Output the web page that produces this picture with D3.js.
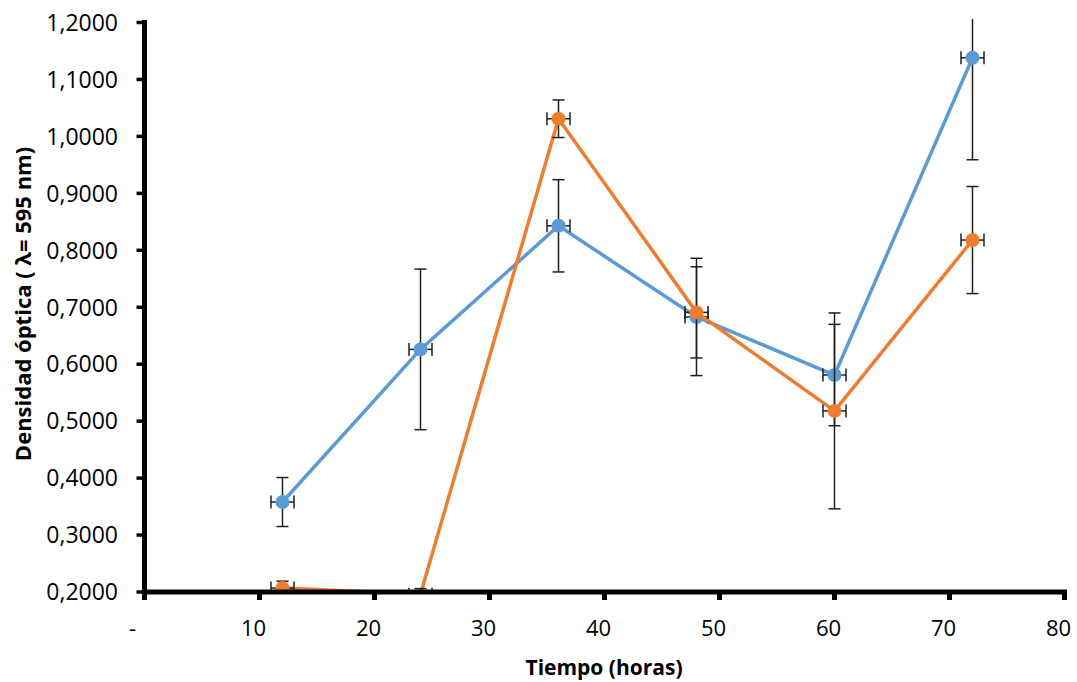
<!DOCTYPE html>
<html>
<head>
<meta charset="utf-8">
<script src="https://cdn.jsdelivr.net/npm/d3@7/dist/d3.min.js"></script>
<style>
  html, body { margin: 0; padding: 0; background: #fff; }
  svg { display: block; }
</style>
</head>
<body>
<svg id="chart" width="1077" height="682"></svg>
<script>
// ---- data ----
const times = [12, 24, 36, 48, 60, 72];
const blueValues = [0.358, 0.626, 0.843, 0.683, 0.581, 1.138];
const blueErr = [0.043, 0.141, 0.081, 0.103, 0.089, 0.179];
const orangeValues = [0.207, 0.196, 1.031, 0.691, 0.518, 0.818];
const orangeErr = [0.012, 0.010, 0.033, 0.080, 0.172, 0.094];
const timeErr = 1;
const xTicks = [0, 10, 20, 30, 40, 50, 60, 70, 80];
const xTickLabels = ["-", "10", "20", "30", "40", "50", "60", "70", "80"];
const yTicks = [0.2, 0.3, 0.4, 0.5, 0.6, 0.7, 0.8, 0.9, 1.0, 1.1, 1.2];
const yTickLabels = ["0,2000", "0,3000", "0,4000", "0,5000", "0,6000", "0,7000", "0,8000", "0,9000", "1,0000", "1,1000", "1,2000"];

const svg = d3.select("#chart");
const x = d3.scaleLinear().domain([0, 80]).range([144.5, 1064.5]);
const y = d3.scaleLinear().domain([0.2, 1.2]).range([592, 22.5]);

svg.append("defs").append("clipPath").attr("id", "plotclip")
  .append("rect").attr("x", 130).attr("y", 19).attr("width", 947).attr("height", 573);

const plot = svg.append("g").attr("clip-path", "url(#plotclip)");

const series = [
  { values: blueValues, err: blueErr, color: "#5B9BD5" },
  { values: orangeValues, err: orangeErr, color: "#ED7D31" }
];

series.forEach(s => {
  const pts = times.map((t, i) => ({ t, v: s.values[i], e: s.err[i] }));
  const g = plot.append("g");
  g.append("path")
    .datum(pts)
    .attr("fill", "none")
    .attr("stroke", s.color)
    .attr("stroke-width", 3.5)
    .attr("stroke-linejoin", "round")
    .attr("d", d3.line().x(d => x(d.t)).y(d => y(d.v)));

  const eb = g.append("g").attr("stroke", "#1f1f1f").attr("stroke-width", 1.5).attr("fill", "none");
  pts.forEach(d => {
    const cx = x(d.t), cy = y(d.v);
    const top = y(d.v + d.e), bot = y(d.v - d.e);
    eb.append("line").attr("x1", cx).attr("x2", cx).attr("y1", top).attr("y2", bot);
    eb.append("line").attr("x1", cx - 6).attr("x2", cx + 6).attr("y1", top).attr("y2", top);
    eb.append("line").attr("x1", cx - 6).attr("x2", cx + 6).attr("y1", bot).attr("y2", bot);
    const l = x(d.t - timeErr), r = x(d.t + timeErr);
    eb.append("line").attr("x1", l).attr("x2", r).attr("y1", cy).attr("y2", cy);
    eb.append("line").attr("x1", l).attr("x2", l).attr("y1", cy - 6.5).attr("y2", cy + 6.5);
    eb.append("line").attr("x1", r).attr("x2", r).attr("y1", cy - 6.5).attr("y2", cy + 6.5);
  });

  g.selectAll("circle.m")
    .data(pts.filter(d => d.v >= y.domain()[0]))
    .join("circle")
    .attr("class", "m")
    .attr("cx", d => x(d.t))
    .attr("cy", d => y(d.v))
    .attr("r", 7)
    .attr("fill", s.color);
});

// ---- axes ----
const axisG = svg.append("g");
axisG.append("line")
  .attr("x1", x(0)).attr("x2", x(0))
  .attr("y1", y(1.2) - 2.5).attr("y2", y(0.2) + 2.5)
  .attr("stroke", "#000").attr("stroke-width", 5);
axisG.append("line")
  .attr("x1", x(0) - 2.5).attr("x2", x(80) + 2.5)
  .attr("y1", y(0.2)).attr("y2", y(0.2))
  .attr("stroke", "#000").attr("stroke-width", 5);

axisG.selectAll("line.yt").data(yTicks).join("line")
  .attr("class", "yt")
  .attr("x1", x(0) - 8).attr("x2", x(0))
  .attr("y1", d => y(d)).attr("y2", d => y(d))
  .attr("stroke", "#000").attr("stroke-width", 3.5);
axisG.selectAll("line.xt").data(xTicks).join("line")
  .attr("class", "xt")
  .attr("x1", d => x(d)).attr("x2", d => x(d))
  .attr("y1", y(0.2)).attr("y2", y(0.2) + 8)
  .attr("stroke", "#000").attr("stroke-width", 5);

axisG.selectAll("text.yl").data(yTicks).join("text")
  .attr("class", "yl")
  .attr("x", 118)
  .attr("y", d => y(d))
  .attr("dy", "0.36em")
  .attr("text-anchor", "end")
  .attr("font-family", "'Open Sans', sans-serif")
  .attr("font-size", 23)
  .attr("fill", "#000")
  .text((d, i) => yTickLabels[i]);

axisG.selectAll("text.xl").data(xTicks).join("text")
  .attr("class", "xl")
  .attr("x", (d, i) => x(d) - (i === 0 ? 12 : 6))
  .attr("y", 635.5)
  .attr("text-anchor", "middle")
  .attr("font-family", "'Open Sans', sans-serif")
  .attr("font-size", 22)
  .attr("fill", "#000")
  .text((d, i) => xTickLabels[i]);

svg.append("text")
  .attr("x", 604).attr("y", 675)
  .attr("text-anchor", "middle")
  .attr("font-family", "'Open Sans', sans-serif")
  .attr("font-weight", "bold")
  .attr("font-size", 21)
  .attr("fill", "#000")
  .text("Tiempo (horas)");

svg.append("text")
  .attr("transform", "translate(31,304) rotate(-90)")
  .attr("text-anchor", "middle")
  .attr("font-family", "'Open Sans', sans-serif")
  .attr("font-weight", "bold")
  .attr("font-size", 22)
  .attr("fill", "#000")
  .text("Densidad óptica ( λ= 595 nm)");
</script>
</body>
</html>
